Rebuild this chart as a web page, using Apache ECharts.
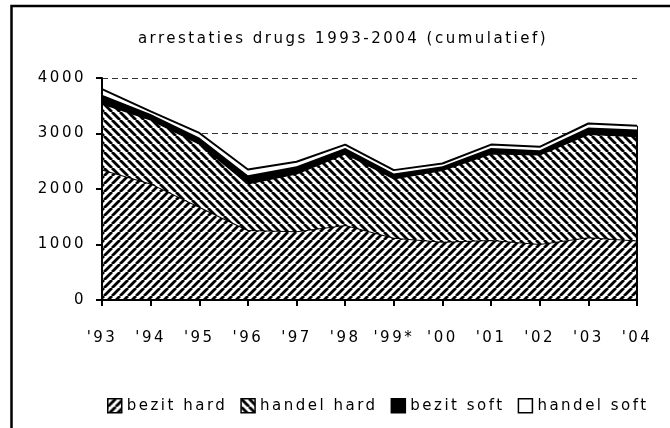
<!DOCTYPE html>
<html lang="nl">
<head>
<meta charset="UTF-8">
<title>arrestaties drugs</title>
<script src="https://cdn.jsdelivr.net/npm/echarts@6/dist/echarts.min.js"></script>
<style>
  html, body { margin: 0; height: 100%; background: #fff; }
  #main { width: 670px; height: 428px; }
</style>
</head>
<body>
<div id="main"></div>
<script type="text/javascript">
// gegevens
var years = ["'93", "'94", "'95", "'96", "'97", "'98", "'99*", "'00", "'01", "'02", "'03", "'04"];
var bezitHard = [2350, 2100, 1680, 1260, 1240, 1350, 1120, 1050, 1080, 1010, 1130, 1070];
var handelHard = [1190, 1150, 1140, 840, 1040, 1290, 1070, 1290, 1560, 1610, 1860, 1880];
var bezitSoft = [160, 100, 110, 150, 130, 100, 90, 70, 100, 80, 120, 120];
var handelSoft = [100, 50, 80, 100, 80, 60, 60, 50, 60, 60, 70, 70];
var yTicks = [0, 1000, 2000, 3000, 4000];

var font = 'DejaVu Sans';
var fontSize = 15;
var spacing = '2.5px';   // brede letterafstand zoals in het origineel

// tekst meten met dezelfde letterafstand
var mctx = document.createElement('canvas').getContext('2d');
mctx.letterSpacing = spacing;
echarts.setPlatformAPI({
    measureText: function (text, f) {
        mctx.font = f || '12px sans-serif';
        return mctx.measureText(text);
    }
});

// arcering als canvas-patroon
function hatch(dir, p, w) {
    var c = document.createElement('canvas');
    c.width = p; c.height = p;
    var ctx = c.getContext('2d');
    ctx.fillStyle = '#fff';
    ctx.fillRect(0, 0, p, p);
    ctx.strokeStyle = '#000';
    ctx.lineWidth = w;
    for (var k = -p; k <= p; k += p) {
        ctx.beginPath();
        if (dir === '/') { ctx.moveTo(k, p); ctx.lineTo(k + p, 0); }
        else { ctx.moveTo(k, 0); ctx.lineTo(k + p, p); }
        ctx.stroke();
    }
    return { image: c, repeat: 'repeat' };
}

var fills = [hatch('/', 8, 2.8), hatch('\\', 8, 2.8), '#000', '#fff'];
var names = ['bezit hard', 'handel hard', 'bezit soft', 'handel soft'];
var values = [bezitHard, handelHard, bezitSoft, handelSoft];

var last = years.length - 1;
var total = bezitHard[last] + handelHard[last] + bezitSoft[last] + handelSoft[last];

var chart = echarts.init(document.getElementById('main'));

var series = names.map(function (n, i) {
    var s = {
        name: n,
        type: 'line',
        stack: 'totaal',
        data: values[i],
        symbol: 'none',
        itemStyle: { color: fills[i] },
        lineStyle: { color: '#000', width: 2 },
        areaStyle: { color: fills[i], opacity: 1 },
        z: 2 + i
    };
    if (i === names.length - 1) {
        s.markLine = {
            silent: true,
            symbol: 'none',
            label: { show: false },
            lineStyle: { color: '#000', width: 2, type: 'solid' },
            data: [[{ coord: [years[last], 0] }, { coord: [years[last], total] }]]
        };
    }
    return s;
});

var yRange = {
    type: 'value',
    min: yTicks[0],
    max: yTicks[yTicks.length - 1],
    interval: yTicks[1] - yTicks[0]
};

var option = {
    animation: false,
    title: {
        text: 'arrestaties drugs 1993-2004 (cumulatief)',
        left: 343,
        textAlign: 'center',
        top: 30,
        padding: 0,
        textStyle: { fontFamily: font, fontSize: fontSize, fontWeight: 'normal', color: '#000' }
    },
    legend: {
        data: names,
        left: 107,
        top: 397,
        padding: 0,
        icon: 'rect',
        itemWidth: 14,
        itemHeight: 14,
        itemGap: 13,
        itemStyle: { borderColor: '#000', borderWidth: 1.5 },
        textStyle: { fontFamily: font, fontSize: fontSize, color: '#000' }
    },
    grid: { left: 102, right: 33, top: 78, bottom: 128 },
    xAxis: {
        type: 'category',
        data: years,
        boundaryGap: false,
        axisLine: { lineStyle: { color: '#000', width: 2 } },
        axisTick: { show: true, length: 6, lineStyle: { color: '#000', width: 2 } },
        axisLabel: { interval: 0, margin: 29, fontFamily: font, fontSize: fontSize, color: '#000' },
        z: 10
    },
    yAxis: [
        // alleen de stippellijnen, onder de vlakken
        Object.assign({}, yRange, {
            axisLine: { show: false },
            axisTick: { show: false },
            axisLabel: { show: false },
            splitLine: { lineStyle: { color: '#333', width: 1, type: [6, 4] } }
        }),
        // as, streepjes en labels boven de vlakken
        Object.assign({}, yRange, {
            position: 'left',
            axisLine: { show: true, lineStyle: { color: '#000', width: 2 } },
            axisTick: { show: true, length: 6, lineStyle: { color: '#000', width: 2 } },
            axisLabel: {
                margin: 16, fontFamily: font, fontSize: fontSize, color: '#000',
                formatter: function (v) { return String(v); }
            },
            splitLine: { show: false },
            z: 10
        })
    ],
    graphic: [{
        type: 'rect',
        shape: { x: 11.5, y: 6, width: 700, height: 500 },
        style: { fill: 'none', stroke: '#000', lineWidth: 2.5 },
        silent: true
    }],
    series: series
};

chart.setOption(option);

// letterafstand ook bij het tekenen, daarna opnieuw tekenen
document.querySelectorAll('#main canvas').forEach(function (cv) {
    cv.getContext('2d').letterSpacing = spacing;
});
chart.getZr().painter.refresh(true);
</script>
</body>
</html>
